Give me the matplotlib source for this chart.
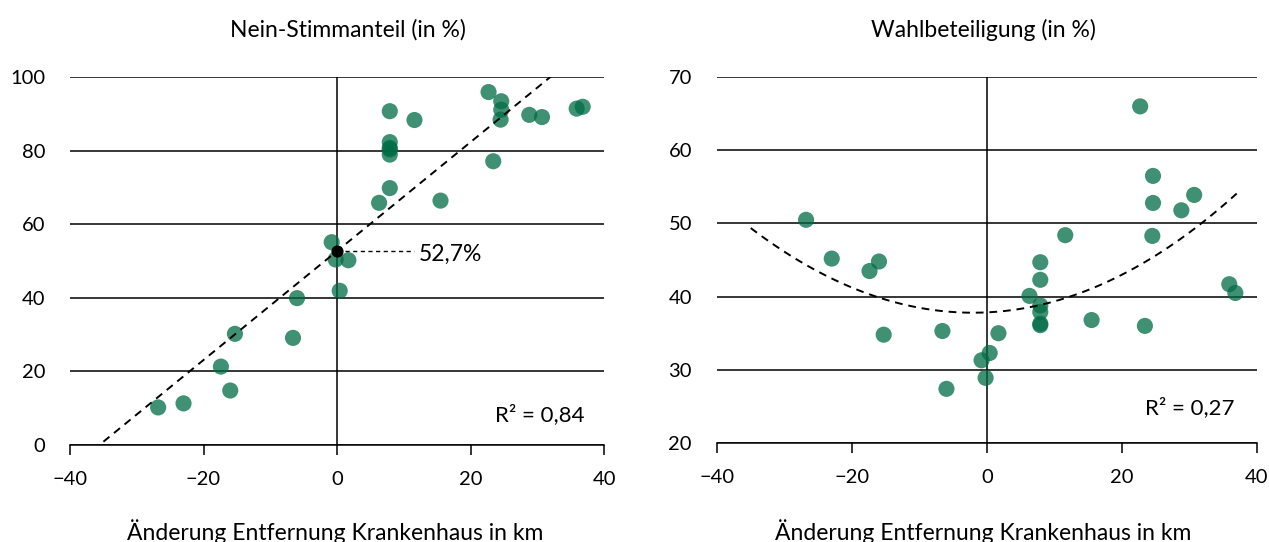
import numpy as np
import matplotlib.pyplot as plt

plt.rcParams['font.family'] = ['Lato', 'DejaVu Sans']

# Change in distance to hospital (km), one value per municipality
distance = [22.7, 24.6, 24.6, 24.5, 7.9, 11.6, 28.8, 30.7, 35.9, 36.8,
            7.9, 7.9, 7.9, 7.9, 23.4, 7.9, 6.3, 15.5, -0.8, -0.2,
            1.7, 0.4, -6.0, -6.6, -15.3, -17.4, -16.0, -23.0, -26.8]

# Share of no-votes (in %)
no_share = [95.9, 93.4, 91.1, 88.4, 90.7, 88.3, 89.7, 89.1, 91.4, 91.9,
            82.3, 80.7, 80.3, 78.9, 77.1, 69.8, 65.8, 66.4, 55.1, 50.4,
            50.2, 41.9, 39.9, 29.1, 30.2, 21.3, 14.8, 11.3, 10.2]

# Turnout (in %)
turnout = [66.0, 56.5, 52.8, 48.3, 44.7, 48.4, 51.8, 53.9, 41.7, 40.5,
           42.3, 38.8, 37.9, 36.3, 36.0, 36.1, 40.1, 36.8, 31.3, 28.9,
           35.0, 32.3, 27.4, 35.3, 34.8, 43.5, 44.8, 45.2, 50.5]

# Trend lines as shown in the chart
lin_slope, lin_intercept = 1.48, 52.7
quad_coef = [0.01067, 0.0441, 37.85]
r2_left, r2_right = '0,84', '0,27'

dot_color = '#006c45'

fig = plt.figure(figsize=(12.69, 5.42), dpi=100)
ax1 = fig.add_axes([0.0552, 0.179, 0.4208, 0.679])
ax2 = fig.add_axes([0.565, 0.1827, 0.4255, 0.675])


def style_axis(ax, ylim, yticks):
    ax.set_xlim(-40, 40)
    ax.set_ylim(*ylim)
    ax.set_xticks([-40, -20, 0, 20, 40])
    ax.set_yticks(yticks)
    ax.set_xticklabels(['\u221240', '\u221220', '0', '20', '40'])
    for s in ['top', 'right', 'left']:
        ax.spines[s].set_visible(False)
    ax.spines['bottom'].set_color('black')
    ax.spines['bottom'].set_linewidth(1.1)
    ax.tick_params(axis='x', direction='out', length=7, width=1.1, pad=12, labelsize=14.5)
    ax.tick_params(axis='y', length=0, pad=18, labelsize=14.5)
    ax.grid(axis='y', color='black', linewidth=1.1)
    ax.set_axisbelow(True)
    ax.axvline(0, color='black', linewidth=1.1, zorder=1)


# Left: share of no-votes
style_axis(ax1, (0, 100), [0, 20, 40, 60, 80, 100])
ax1.scatter(distance, no_share, s=135, color=dot_color, alpha=0.75,
            edgecolors='none', zorder=3)
xl = np.linspace(-35, 40, 100)
ax1.plot(xl, lin_slope * xl + lin_intercept, color='black', linestyle=(0, (4, 3)),
         linewidth=1.4, zorder=4)
ax1.scatter([0], [lin_intercept], s=60, color='black', zorder=5)
ax1.plot([1.2, 11.5], [lin_intercept, lin_intercept], color='black',
         linestyle=(0, (3, 2.5)), linewidth=1.0, zorder=4)
ax1.text(12.3, lin_intercept - 0.8, '52,7%', fontsize=16.5, va='center', ha='left')
ax1.text(0.964, 0.082, 'R\u00b2 = ' + r2_left, transform=ax1.transAxes,
         fontsize=16, ha='right', va='center')

# Right: turnout
style_axis(ax2, (20, 70), [20, 30, 40, 50, 60, 70])
ax2.scatter(distance, turnout, s=135, color=dot_color, alpha=0.75,
            edgecolors='none', zorder=3)
xq = np.linspace(-35, 37, 100)
ax2.plot(xq, np.polyval(quad_coef, xq), color='black', linestyle=(0, (4, 3)),
         linewidth=1.4, zorder=4)
ax2.text(0.959, 0.096, 'R\u00b2 = ' + r2_right, transform=ax2.transAxes,
         fontsize=16, ha='right', va='center')

# Titles and axis labels
fig.text(0.274, 0.945, 'Nein-Stimmanteil (in %)', fontsize=16.5, ha='center', va='center')
fig.text(0.775, 0.945, 'Wahlbeteiligung (in %)', fontsize=16.5, ha='center', va='center')
fig.text(0.264, 0.02, '\u00c4nderung Entfernung Krankenhaus in km', fontsize=16.5,
         ha='center', va='center')
fig.text(0.775, 0.02, '\u00c4nderung Entfernung Krankenhaus in km', fontsize=16.5,
         ha='center', va='center')

fig.savefig('out.png', dpi=100)
